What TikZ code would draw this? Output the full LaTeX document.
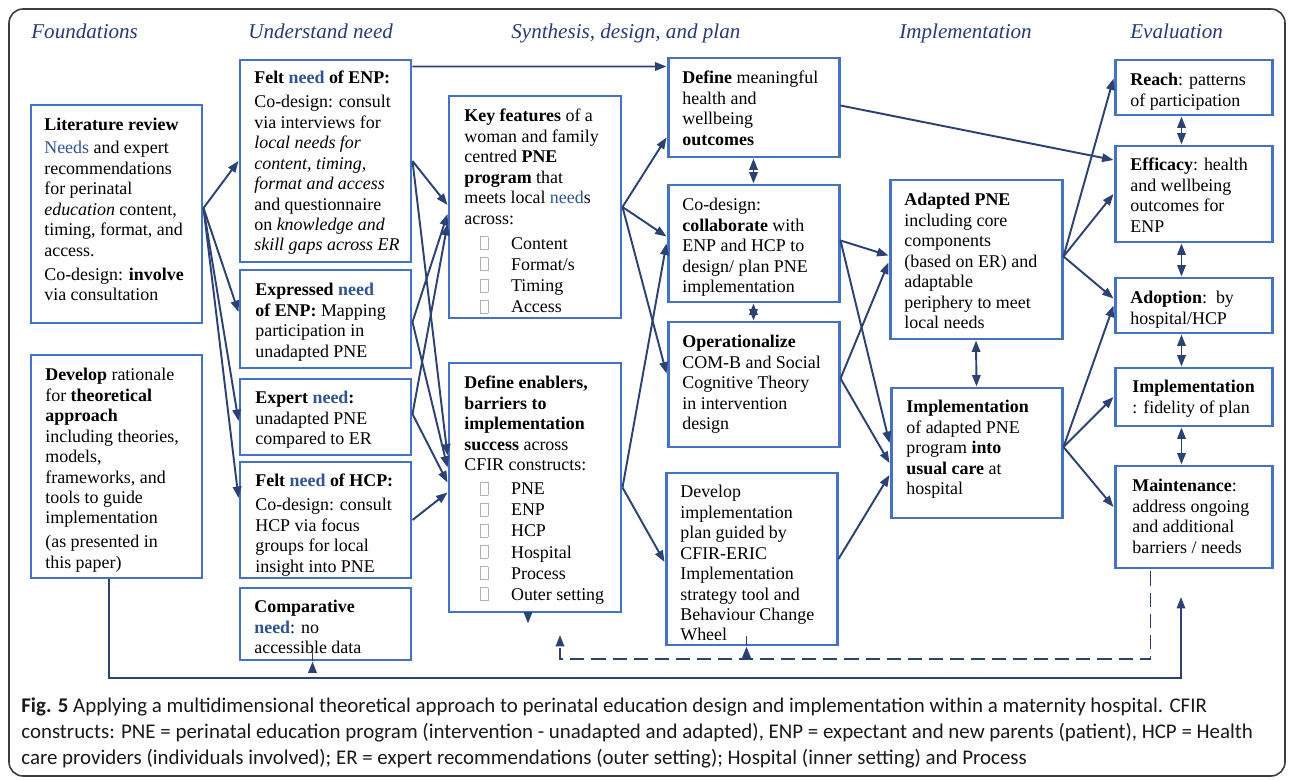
\documentclass[tikz,border=0pt]{standalone}
\usepackage{fontspec}
\setmainfont{Liberation Serif}
\newfontfamily\capfont{Carlito}
\usetikzlibrary{arrows.meta,calc,fit}
\definecolor{BoxBlue}{RGB}{68,114,196}
\definecolor{LineNavy}{RGB}{44,66,116}
\definecolor{NeedBlue}{RGB}{47,84,150}
\definecolor{HeadBlue}{RGB}{38,58,120}
\definecolor{FrameGray}{RGB}{60,60,60}
\newcommand{\nd}[1]{\textcolor{NeedBlue}{#1}}
\newcommand{\tofu}{\hspace*{9pt}\makebox[17.6pt][l]{{\color{black!30}\setlength{\fboxrule}{0.4pt}%
  \setlength{\fboxsep}{0pt}\framebox{\phantom{\rule{3.8pt}{7pt}}}}}}

\begin{document}
\begin{tikzpicture}[x=0.02cm,y=-0.02cm,
    pbox/.style={draw=BoxBlue,line width=1.7pt,inner sep=0pt},
    txt/.style={anchor=north west,inner sep=0pt,align=left,font=\fontsize{10.2}{11.65}\selectfont},
    head/.style={anchor=base west,inner sep=0pt,text=HeadBlue,font=\fontsize{12}{14}\selectfont\itshape},
    arr/.style={LineNavy,line width=1.1pt,-{Triangle[length=6.5pt,width=4.8pt]}},
    dbl/.style={arr,{Triangle[length=6.5pt,width=4.8pt]}-{Triangle[length=6.5pt,width=4.8pt]}}]
  \useasboundingbox (0,0) rectangle (1292,780);
  \draw[FrameGray,line width=0.9pt,rounded corners=8pt] (9,9) rectangle (1285,776);

  % column heads
  \node[head] (hFound) at (31,39) {Foundations};
  \node[head] (hNeed) at (248,39) {Understand need};
  \node[head] (hSyn) at (511,39) {Synthesis, design, and plan};
  \node[head] (hImpl) at (899,39) {Implementation};
  \node[head] (hEval) at (1130,39) {Evaluation};

  % boxes
  \foreach \n/\xa/\ya/\xb/\yb in {lit/31/105/202/323, rat/31/355/202/578,
      feltE/240/60/411/262, expr/240/270/411/368, expt/240/379/411/455,
      hcp/240/462/411/578, comp/240/588/411/660,
      keyf/449/96/621/318, defen/449/363/621/612,
      defo/668/58/839/157, collab/668/185/839/302, oper/668/322/839/447, devp/666/473/837/645,
      adap/890/180/1062/339, impl/891/388/1062/518,
      reach/1115/60/1272/115, effi/1115/146/1272/242, adop/1115/278/1272/333,
      fid/1115/368/1272/426, maint/1115/466/1272/568}
    \node[pbox,fit={(\xa,\ya) (\xb,\yb)}] (\n) {};

  % box texts
  \node[txt] (litT) at (44,116) {\strut\textbf{Literature review}\\[1.5pt]
    \nd{Needs} and expert\\ recommendations\\ for perinatal\\ \textit{education} content,\\
    timing, format, and\\ access.\\[2pt] Co-design: \textbf{involve}\\ via consultation};
  \node[txt] (ratT) at (45,366) {\strut\textbf{Develop} rationale\\ for \textbf{theoretical}\\
    \textbf{approach}\\ including theories,\\ models,\\ frameworks, and\\ tools to guide\\
    implementation\\[2pt] (as presented in\\ this paper)};
  \node[txt] (feltET) at (254,69) {\strut\textbf{Felt \nd{need} of ENP:}\\[2pt]
    Co-design: consult\\ via interviews for\\ \textit{local needs for}\\ \textit{content, timing,}\\
    \textit{format and access}\\ and questionnaire\\ on \textit{knowledge and}\\ \textit{skill gaps across ER}};
  \node[txt] (exprT) at (255,281) {\strut\textbf{Expressed \nd{need}}\\ \textbf{of ENP:} Mapping\\
    participation in\\ unadapted PNE};
  \node[txt] (exptT) at (255,389) {\strut\textbf{Expert \nd{need}:}\\ unadapted PNE\\ compared to ER};
  \node[txt] (hcpT) at (255,472) {\strut\textbf{Felt \nd{need} of HCP:}\\[2pt]
    Co-design: consult\\ HCP via focus\\ groups for local\\ insight into PNE};
  \node[txt] (compT) at (254,598) {\strut\textbf{Comparative}\\ \textbf{\nd{need}}: no\\ accessible data};
  \node[txt] (keyfT) at (464,107) {\strut\textbf{Key features} of a\\ woman and family\\
    centred \textbf{PNE}\\ \textbf{program} that\\ meets local \nd{need}s\\ across:\\[2.7pt]
    \tofu Content\\[0.4pt] \tofu Format/s\\[0.4pt] \tofu Timing\\[0.4pt] \tofu Access};
  \node[txt] (defenT) at (464,374) {\strut\textbf{Define enablers,}\\ \textbf{barriers to}\\
    \textbf{implementation}\\ \textbf{success} across\\ CFIR constructs:\\[2pt]
    \tofu PNE\\[0.4pt] \tofu ENP\\[0.4pt] \tofu HCP\\[0.4pt] \tofu Hospital\\[0.4pt]
    \tofu Process\\[0.4pt] \tofu Outer setting};
  \node[txt] (defoT) at (682,69) {\strut\textbf{Define} meaningful\\ health and\\ wellbeing\\ \textbf{outcomes}};
  \node[txt] (collabT) at (682,196) {\strut Co-design:\\ \textbf{collaborate} with\\
    ENP and HCP to\\ design/ plan PNE\\ implementation};
  \node[txt] (operT) at (682,333) {\strut\textbf{Operationalize}\\ COM-B and Social\\
    Cognitive Theory\\ in intervention\\ design};
  \node[txt] (devpT) at (680,483) {\strut Develop\\ implementation\\ plan guided by\\ CFIR-ERIC\\
    Implementation\\ strategy tool and\\ Behaviour Change\\ Wheel};
  \node[txt] (adapT) at (904,191) {\strut\textbf{Adapted PNE}\\ including core\\ components\\
    (based on ER) and\\ adaptable\\ periphery to meet\\ local needs};
  \node[txt] (implT) at (906,398) {\strut\textbf{Implementation}\\ of adapted PNE\\
    program \textbf{into}\\ \textbf{usual care} at\\ hospital};
  \node[txt] (reachT) at (1130,71) {\strut\textbf{Reach}: patterns\\ of participation};
  \node[txt] (effiT) at (1130,156) {\strut\textbf{Efficacy}: health\\ and wellbeing\\ outcomes for\\ ENP};
  \node[txt] (adopT) at (1130,289) {\strut\textbf{Adoption}:\ \ by\\ hospital/HCP};
  \node[txt] (fidT) at (1132,378) {\strut\textbf{Implementation}\\ : fidelity of plan};
  \node[txt] (maintT) at (1132,477) {\strut\textbf{Maintenance}:\\ address ongoing\\
    and additional\\ barriers / needs};

  % understand need
  \draw[arr] ($(lit.east)+(0,-6)$) -- (feltE.west);
  \draw[arr] ($(lit.east)+(0,-6)$) -- ($(expr.west)+(0,-7)$);
  \draw[arr] ($(lit.east)+(0,-6)$) -- ($(expt.west)+(0,4)$);
  \draw[arr] ($(lit.east)+(0,-6)$) -- ($(hcp.west)+(0,-22)$);
  \draw[arr] ($(feltE.north east)+(0,8)$) -- ($(defo.north west)+(0,10)$);
  \draw[arr] (feltE.east) -- ($(keyf.west)+(0,-2)$);
  \draw[arr] (feltE.east) -- ($(defen.west)+(0,-32)$);
  \draw[arr] ($(expr.east)+(0,3)$) -- ($(keyf.west)+(0,7)$);
  \draw[arr] ($(expr.east)+(0,3)$) -- ($(defen.west)+(0,-20)$);
  \draw[arr] ($(expt.east)+(0,-3)$) -- ($(keyf.west)+(0,17)$);
  \draw[arr] ($(expt.east)+(0,-3)$) -- ($(defen.west)+(0,-5)$);
  \draw[arr] (hcp.east) -- ($(defen.west)+(0,5)$);

  % synthesis
  \draw[arr] (keyf.east) -- ($(defo.west)+(0,30)$);
  \draw[arr] (keyf.east) -- ($(collab.west)+(0,-7)$);
  \draw[arr] (keyf.east) -- ($(oper.west)+(0,-11)$);
  \draw[arr] (defen.east) -- (collab.west);
  \draw[arr] (defen.east) -- ($(devp.west)+(0,3)$);
  \draw[dbl] (defo.south) -- (collab.north);
  \draw[dbl] (collab.south) -- (oper.north);

  % implementation
  \draw[arr] ($(collab.east)+(0,-3)$) -- ($(adap.west)+(0,-4)$);
  \draw[arr] ($(collab.east)+(0,-3)$) -- ($(impl.west)+(0,-10)$);
  \draw[arr] ($(oper.east)+(0,-6)$) -- ($(adap.west)+(0,3)$);
  \draw[arr] ($(oper.east)+(0,-6)$) -- ($(impl.west)+(0,10)$);
  \draw[arr] (devp.east) -- ($(impl.west)+(0,22)$);
  \draw[dbl] (adap.south) -- (impl.north);

  % evaluation
  \draw[arr] ($(adap.east)+(0,-3)$) -- ($(reach.west)+(0,-9)$);
  \draw[arr] ($(adap.east)+(0,-3)$) -- (effi.west);
  \draw[arr] ($(adap.east)+(0,-3)$) -- ($(adop.west)+(0,-7)$);
  \draw[arr] ($(impl.east)+(0,-6)$) -- (adop.west);
  \draw[arr] ($(impl.east)+(0,-6)$) -- (fid.west);
  \draw[arr] ($(impl.east)+(0,-6)$) -- ($(maint.west)+(0,-10)$);
  \draw[arr] ($(defo.east)+(0,-2)$) -- ($(effi.west)+(0,-34)$);
  \draw[dbl] ($(reach.south)+(-12,0)$) -- ($(effi.north)+(-12,0)$);
  \draw[dbl] ($(effi.south)+(-12,0)$) -- ($(adop.north)+(-12,0)$);
  \draw[dbl] ($(adop.south)+(-12,0)$) -- ($(fid.north)+(-12,0)$);
  \draw[dbl] ($(fid.south)+(-12,0)$) -- ($(maint.north)+(-12,0)$);

  % feedback lines
  \coordinate (busL) at (109,678);
  \coordinate (busR) at (1181,678);
  \coordinate (fbTip) at (1181,597);
  \draw[arr] (rat.south -| busL) -- (busL) -- (busR) -- (fbTip);
  \draw[arr] ($(comp.south)+(-13,0)$ |- busL) -- ($(comp.south)+(-13,0)$);
  \draw[arr] ($(defen.south)+(-7,0)$ |- busL) -- ($(defen.south)+(-7,10)$);
  \draw[arr] ($(devp.south)+(-5,0)$ |- busL) -- ($(devp.south)+(-5,0)$);
  \coordinate (dashL) at (560,659);
  \coordinate (dashTip) at (560,635);
  \draw[arr,dash pattern=on 8pt off 4pt] ($(maint.south)+(-43,2)$) |- (dashL) -- (dashTip);

  % caption
  \node[anchor=north west,inner sep=0pt,align=left,text=black!90,
        font=\capfont\fontsize{11.9}{14.7}\selectfont] (cap) at (21,694) {\strut\textbf{Fig. 5} Applying a
    multidimensional theoretical approach to perinatal education design and implementation within a
    maternity hospital. CFIR\\ constructs: PNE = perinatal education program (intervention - unadapted
    and adapted), ENP = expectant and new parents (patient), HCP = Health\\ care providers
    (individuals involved); ER = expert recommendations (outer setting); Hospital (inner setting) and Process};
\end{tikzpicture}
\end{document}
